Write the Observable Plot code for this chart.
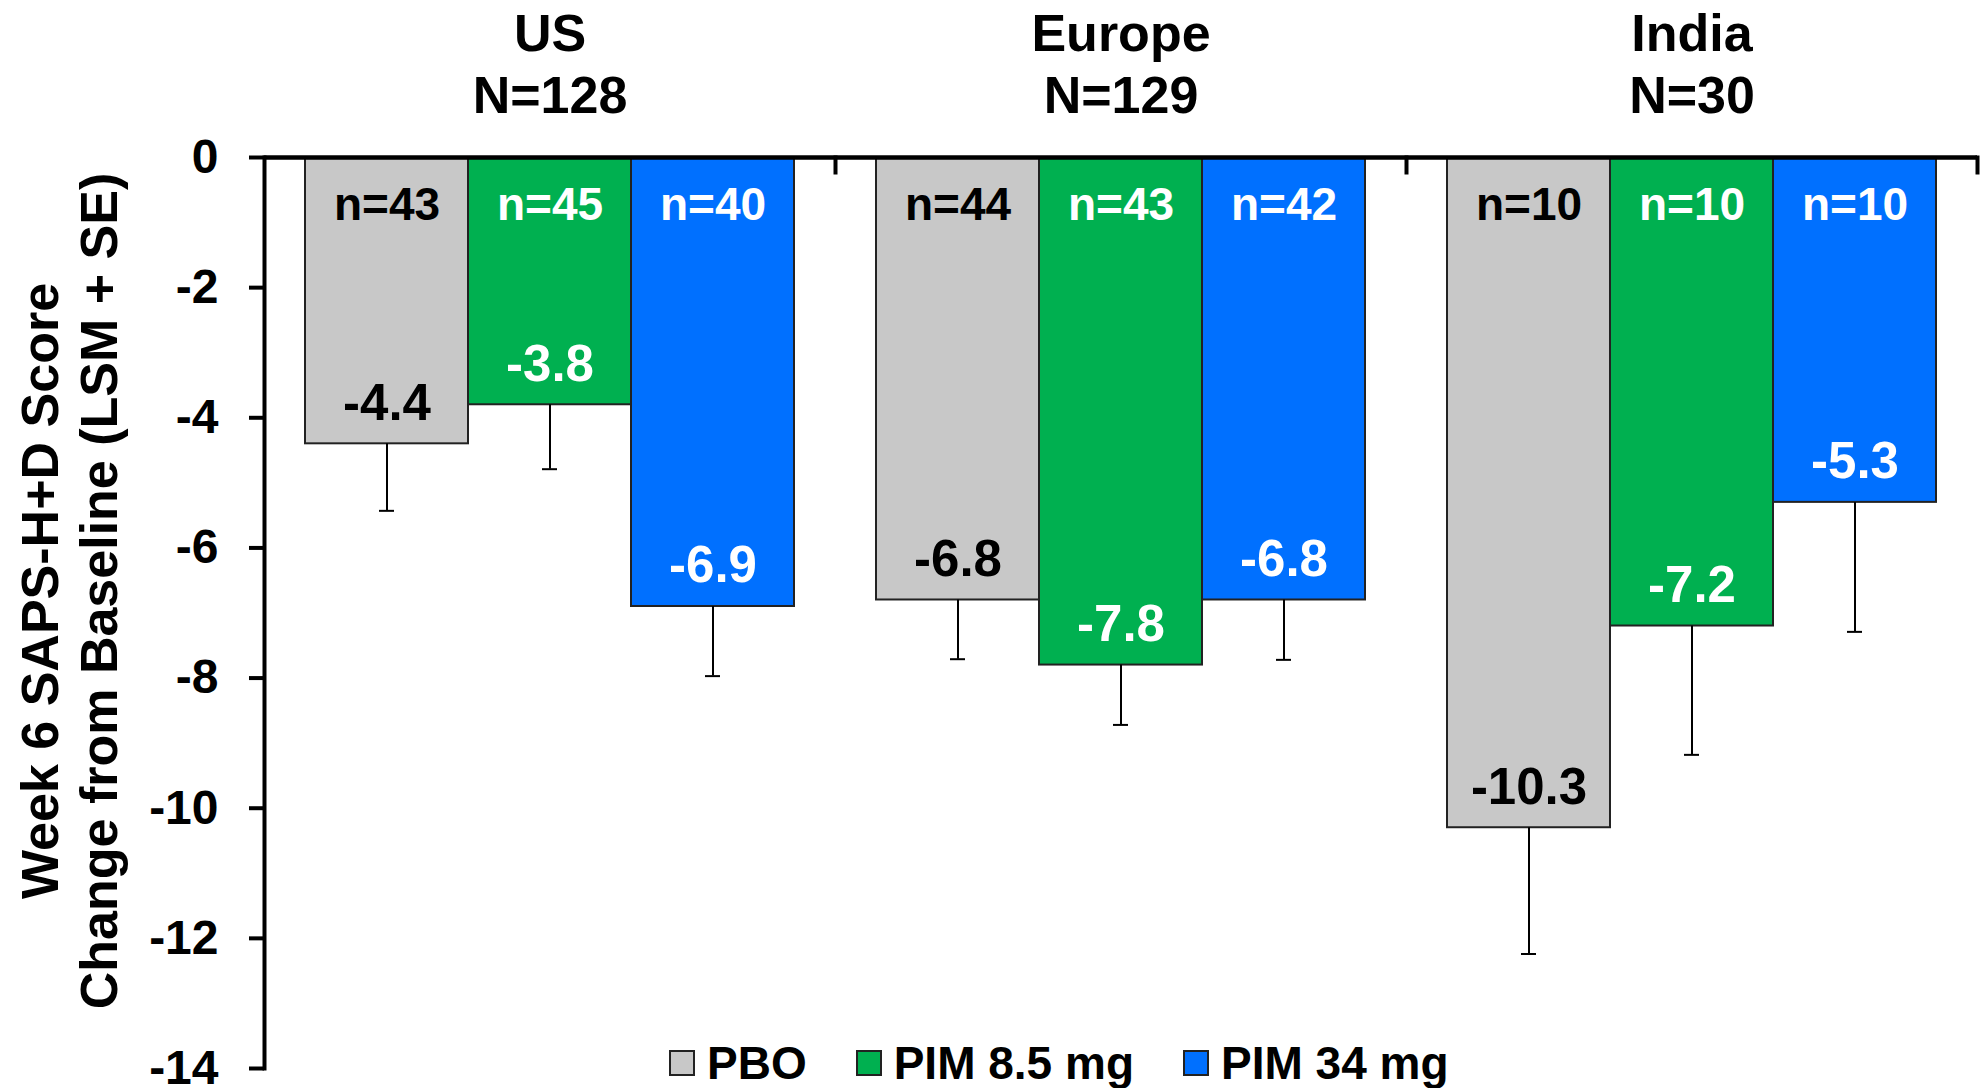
<!DOCTYPE html>
<html>
<head>
<meta charset="utf-8">
<script src="https://cdn.jsdelivr.net/npm/d3@7"></script>
<script src="https://cdn.jsdelivr.net/npm/@observablehq/plot@0.6"></script>
<style>
  html, body { margin: 0; padding: 0; background: #fff; }
  #wrap { position: relative; width: 1982px; height: 1088px; font-family: "Liberation Sans", Arial, sans-serif; }
  #legend { position: absolute; left: 669px; top: 1040px; height: 46px; display: flex; align-items: center;
            font-size: 46px; line-height: 46px; font-weight: bold; color: #000; }
  #legend .item { display: flex; align-items: center; margin-right: 49px; }
  #legend .sw { width: 22px; height: 22px; border: 2px solid #222; margin-right: 12px; box-sizing: content-box; }
</style>
</head>
<body>
<div id="wrap"></div>
<script>
// ---- data ----
const groups = ["US", "Europe", "India"];
const groupN = [128, 129, 30];
const treatments = ["PBO", "PIM 8.5 mg", "PIM 34 mg"];
const colors = ["#C8C8C8", "#00B050", "#0070FF"];
const labelColors = ["#000000", "#ffffff", "#ffffff"];
const sampleSizes = [[43, 45, 40], [44, 43, 42], [10, 10, 10]];
const lsm = [[-4.4, -3.8, -6.9], [-6.8, -7.8, -6.8], [-10.3, -7.2, -5.3]];
const se = [[1.03, 0.99, 1.07], [0.91, 0.92, 0.92], [1.94, 1.98, 1.99]];
const yTicks = [0, -2, -4, -6, -8, -10, -12, -14];
const yTitle = "Week 6 SAPS-H+D Score\nChange from Baseline (LSM + SE)";

// ---- table built from the arrays ----
const rows = [];
groups.forEach((g, gi) => treatments.forEach((t, ti) => rows.push({
  group: g, treatment: t, n: sampleSizes[gi][ti], value: lsm[gi][ti],
  lower: lsm[gi][ti] - se[gi][ti], labelColor: labelColors[ti]
})));
const groupRows = groups.map((g, i) => ({group: g, N: groupN[i]}));

const font = "Liberation Sans, Arial, sans-serif";

const chart = Plot.plot({
  width: 1982,
  height: 1088,
  marginTop: 157,
  marginBottom: 20,
  marginLeft: 264,
  marginRight: 5,
  style: {fontFamily: font, background: "#fff", color: "#000", overflow: "visible"},
  fx: {domain: groups, padding: 0, axis: null},
  x: {domain: treatments, paddingInner: 0, paddingOuter: 0.25, axis: null},
  y: {domain: [-14, 0], axis: null},
  color: {domain: treatments, range: colors},
  marks: [
    Plot.barY(rows, {fx: "group", x: "treatment", y: "value", fill: "treatment", stroke: "#222", strokeWidth: 2}),
    Plot.ruleX(rows, {fx: "group", x: "treatment", y1: "value", y2: "lower", stroke: "#000", strokeWidth: 2}),
    Plot.tickY(rows, {fx: "group", x: "treatment", y: "lower", stroke: "#000", strokeWidth: 2, insetLeft: 74, insetRight: 74}),
    Plot.text(rows, {fx: "group", x: "treatment", frameAnchor: "top", lineAnchor: "bottom", dy: 62,
      text: d => `n=${d.n}`, fill: "labelColor", fontSize: 46, fontWeight: "bold"}),
    Plot.text(rows, {fx: "group", x: "treatment", y: "value", lineAnchor: "bottom", dy: -24,
      text: d => d.value.toFixed(1), fill: "labelColor", fontSize: 51, fontWeight: "bold"}),
    Plot.text(groupRows, {fx: "group", frameAnchor: "top", lineAnchor: "bottom", dy: -45, lineHeight: 1.19,
      text: d => `${d.group}\nN=${d.N}`, fill: "#000", fontSize: 52, fontWeight: "bold"}),
    Plot.ruleY([0], {stroke: "#000", strokeWidth: 4.5}),
    Plot.frame({anchor: "right", stroke: "#000", strokeWidth: 4, insetBottom: 896}),
    Plot.frame({anchor: "left", facetAnchor: "left", stroke: "#000", strokeWidth: 4}),
    Plot.axisY({ticks: yTicks, tickSize: 15, tickPadding: 31, strokeWidth: 4, stroke: "#000", fill: "#000",
      fontSize: 48, fontWeight: "bold", tickFormat: d => `${d}`, label: null}),
    Plot.text([yTitle], {fx: [groups[0]], frameAnchor: "left", textAnchor: "middle", rotate: -90, dx: -196, dy: -22,
      lineAnchor: "middle", lineHeight: 1.13, fill: "#000", fontSize: 52, fontWeight: "bold"})
  ]
});

const wrap = document.getElementById("wrap");
wrap.appendChild(chart);

// legend (HTML, overlaid at the bottom like the reference)
const legend = document.createElement("div");
legend.id = "legend";
treatments.forEach((t, i) => {
  const item = document.createElement("div");
  item.className = "item";
  const sw = document.createElement("span");
  sw.className = "sw";
  sw.style.background = colors[i];
  const lab = document.createElement("span");
  lab.textContent = t;
  item.appendChild(sw);
  item.appendChild(lab);
  legend.appendChild(item);
});
wrap.appendChild(legend);
</script>
</body>
</html>
